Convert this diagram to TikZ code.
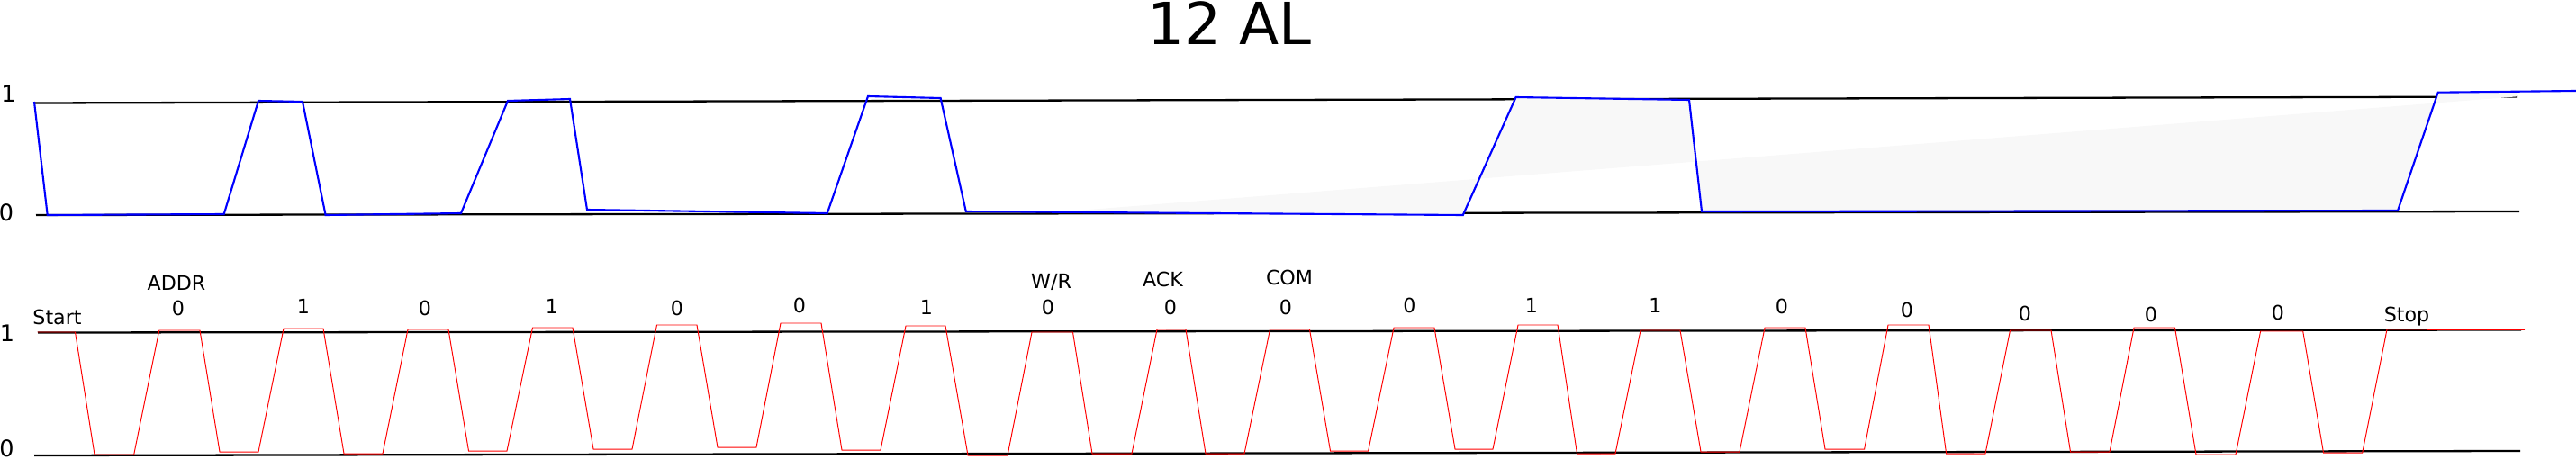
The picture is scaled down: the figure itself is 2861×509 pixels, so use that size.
\documentclass[tikz,border=0pt]{standalone}
\usepackage{fontspec}
\setmainfont{DejaVu Sans}
\definecolor{shadegray}{RGB}{248,248,248}
\begin{document}
\begin{tikzpicture}[x=0.01cm,y=-0.01cm,
  axis/.style={line width=0.65pt, black},
  blueline/.style={line width=0.6pt, blue, line join=miter},
  redline/.style={line width=0.28pt, red, line join=miter},
  shade/.style={fill=shadegray, draw=none},
  ttl/.style={font=\fontsize{18.35pt}{22pt}\selectfont, inner sep=0pt, anchor=base},
  axlbl/.style={font=\fontsize{7.25pt}{9pt}\selectfont, inner sep=0pt, anchor=base},
  lbl/.style={font=\fontsize{6.3pt}{8pt}\selectfont, inner sep=0pt, anchor=base}]
\useasboundingbox (0,0) rectangle (2861,509);

% title
\node[ttl] (title) at (1365.5,49) {12 AL};

% axis labels
\node[axlbl] (ta1) at (9.5,113.3) {1};
\node[axlbl] (ta0) at (7,245) {0};
\node[axlbl] (ba1) at (8,379) {1};
\node[axlbl] (ba0) at (7.5,507.5) {0};

% axis lines
\draw[axis] (38,114.5) -- (2796,107.5);
\draw[axis] (40,239) -- (2798,235);
\draw[axis] (42,369.5) -- (2800,366.5);
\draw[axis] (38,506) -- (2799,501);

% shaded region
\fill[shade] (1175,235.7) -- (1624.8,239) -- (1683.6,108) -- (1876,111) -- (1890,235)
  -- (2663,234) -- (2707.7,102.7) -- (2796,101.8) -- (2796,107.3) -- cycle;

% blue signal
\draw[blueline] (38,113) -- (52.7,239) -- (248.7,238) -- (287,112) -- (336,113)
  -- (361.6,239) -- (512,237) -- (564,112) -- (633,110) -- (652,233)
  -- (918.75,237) -- (964,107) -- (1044.6,109) -- (1072.8,235)
  -- (1624.8,239) -- (1683.6,108) -- (1876,111) -- (1890,235)
  -- (2663,234) -- (2707.7,102.7) -- (2861,101);

% red signal
\draw[redline] (41.5,369) -- (83.5,369) -- (105,505) -- (148.7,505) -- (176.8,367)
  -- (222,367) -- (244,502) -- (287,502) -- (315,365) -- (359,365)
  -- (382,504) -- (425,504) -- (453,366) -- (498,366) -- (520.5,501)
  -- (563,501) -- (591.5,364) -- (636,364) -- (659,499) -- (702,499)
  -- (729.5,361) -- (774,361) -- (797,497) -- (840,497) -- (867,359)
  -- (912,359) -- (935,500) -- (978,500) -- (1006,362) -- (1050,362)
  -- (1075,506) -- (1119,506) -- (1146,369) -- (1191.5,369) -- (1213,504)
  -- (1257,504) -- (1285,366) -- (1317,366) -- (1339,504) -- (1382,504)
  -- (1410.5,366) -- (1454.5,366) -- (1477.5,501) -- (1519.6,501) -- (1548,364)
  -- (1593,364) -- (1616,499) -- (1658,499) -- (1686,361) -- (1730,361)
  -- (1751.5,504) -- (1794,504) -- (1822,367) -- (1866,367) -- (1889,502)
  -- (1932,502) -- (1960,364) -- (2005,364) -- (2027,499) -- (2070.6,499)
  -- (2097,361) -- (2142,361) -- (2161.6,504) -- (2205,504) -- (2232.5,367)
  -- (2278,367) -- (2299.5,502) -- (2343,502) -- (2370,364) -- (2415.5,364)
  -- (2439,505) -- (2483,505) -- (2510.6,368) -- (2557.7,368) -- (2580.5,503)
  -- (2623.7,503) -- (2651,366) -- (2804,366);
\draw[red, line width=0.55pt] (2696,366.3) -- (2804,366.3);

% bit labels
\node[lbl] (start) at (63.5,360) {Start};
\node[lbl] (addr) at (196,322) {ADDR};
\node[lbl] (b1) at (198,350.5) {0};
\node[lbl] (b2) at (337,348) {1};
\node[lbl] (b3) at (472,350.5) {0};
\node[lbl] (b4) at (613,348) {1};
\node[lbl] (b5) at (752,350) {0};
\node[lbl] (b6) at (888,347) {0};
\node[lbl] (b7) at (1029,349) {1};
\node[lbl] (wr) at (1167.5,320.5) {W/R};
\node[lbl] (b8) at (1164,349) {0};
\node[lbl] (ack) at (1291.5,318) {ACK};
\node[lbl] (b9) at (1300,349) {0};
\node[lbl] (com) at (1432,316) {COM};
\node[lbl] (b10) at (1428,349) {0};
\node[lbl] (b11) at (1565.5,347) {0};
\node[lbl] (b12) at (1701,347) {1};
\node[lbl] (b13) at (1838.5,347) {1};
\node[lbl] (b14) at (1979,348) {0};
\node[lbl] (b15) at (2118,352) {0};
\node[lbl] (b16) at (2249,356) {0};
\node[lbl] (b17) at (2389,357) {0};
\node[lbl] (b18) at (2530,355) {0};
\node[lbl] (stop) at (2673,357.5) {Stop};
\end{tikzpicture}
\end{document}
